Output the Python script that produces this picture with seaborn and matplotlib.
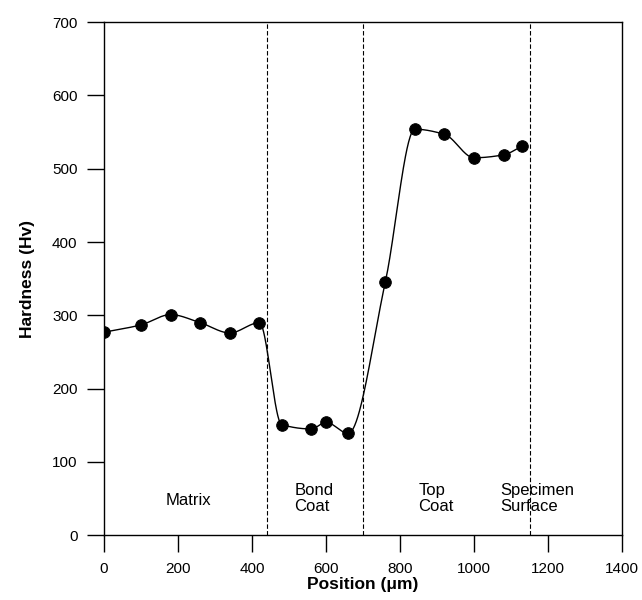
#!/usr/bin/env python3
"""Hardness profile across a thermal barrier coating"""

import numpy as np
import pandas as pd
import matplotlib
matplotlib.use('Agg')
import matplotlib.pyplot as plt
import seaborn as sns

# measured points
position = [0, 100, 180, 260, 340, 420, 480, 560, 600, 660, 760, 840, 920, 1000, 1080, 1130]
hardness = [277, 287, 301, 290, 276, 290, 151, 145, 154, 139, 345, 554, 547, 515, 519, 531]

# layer boundaries and labels
boundaries = [440, 700, 1150]
region_labels = ['Matrix', 'Bond\nCoat', 'Top\nCoat', 'Specimen\nSurface']
label_x = [166, 514, 849, 1071]
label_y = [47, 50, 50, 50]


def pchip(x, y, n=800):
    # monotone cubic (Fritsch-Carlson) - smooth curve without big overshoot
    x = np.asarray(x, float)
    y = np.asarray(y, float)
    h = np.diff(x)
    delta = np.diff(y) / h
    m = len(x)
    d = np.zeros(m)
    for i in range(1, m - 1):
        if delta[i - 1] * delta[i] > 0:
            w1 = 2 * h[i] + h[i - 1]
            w2 = h[i] + 2 * h[i - 1]
            d[i] = (w1 + w2) / (w1 / delta[i - 1] + w2 / delta[i])
    d[0] = delta[0]
    d[-1] = delta[-1]
    xs = np.linspace(x[0], x[-1], n)
    idx = np.clip(np.searchsorted(x, xs) - 1, 0, m - 2)
    hh = h[idx]
    t = (xs - x[idx]) / hh
    h00 = 2 * t**3 - 3 * t**2 + 1
    h10 = t**3 - 2 * t**2 + t
    h01 = -2 * t**3 + 3 * t**2
    h11 = t**3 - t**2
    ys = h00 * y[idx] + h10 * hh * d[idx] + h01 * y[idx + 1] + h11 * hh * d[idx + 1]
    return xs, ys


df = pd.DataFrame({'Position': position, 'Hardness': hardness})
xs, ys = pchip(position, hardness)
curve = pd.DataFrame({'Position': xs, 'Hardness': ys})

sns.set_theme(style='ticks')
plt.rcParams['font.family'] = ['Liberation Sans', 'DejaVu Sans']
plt.rcParams['text.color'] = 'black'
plt.rcParams['axes.labelcolor'] = 'black'

fig = plt.figure(figsize=(6.42, 6.0), dpi=100)
ax = fig.add_axes([0.162, 0.108, 0.807, 0.855])

sns.lineplot(data=curve, x='Position', y='Hardness', color='black', linewidth=1.0, ax=ax)
sns.scatterplot(data=df, x='Position', y='Hardness', color='black', s=70,
                edgecolor='black', zorder=5, ax=ax)

for xb in boundaries:
    ax.axvline(xb, color='black', linestyle=(0, (4, 2)), linewidth=0.8)

for txt, tx, ty in zip(region_labels, label_x, label_y):
    ax.text(tx, ty, txt, ha='left', va='center', fontsize=12, linespacing=1.15,
            color='black')

ax.set_xlim(0, 1400)
ax.set_ylim(0, 700)
ax.set_xticks(range(0, 1401, 200))
ax.set_yticks(range(0, 701, 100))
ax.tick_params(direction='out', length=12, width=1, labelsize=11, colors='black', pad=7)
for sp in ax.spines.values():
    sp.set_visible(True)
    sp.set_color('black')
    sp.set_linewidth(1.0)

ax.set_xlabel('Position (μm)', fontsize=12.5, fontweight='bold', labelpad=1, color='black')
ax.set_ylabel('Hardness (Hv)', fontsize=12.5, fontweight='bold', labelpad=12, color='black')

plt.savefig('out.png', dpi=100)
plt.close()
